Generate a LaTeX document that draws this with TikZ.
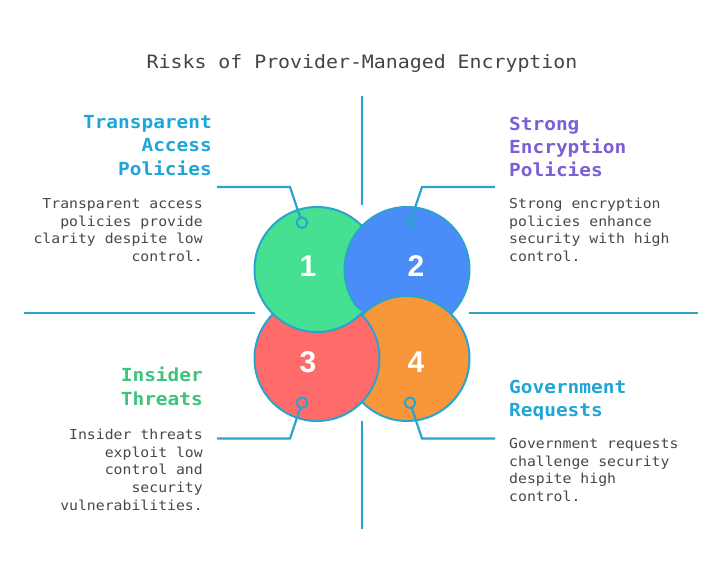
\documentclass[tikz,border=0pt]{standalone}
\usepackage{fontspec}
\newfontfamily\monof[FakeStretch=1.08]{DejaVu Sans Mono}
\newfontfamily\numf{Liberation Sans}
\definecolor{linec}{RGB}{42,163,206}
\definecolor{cgreen}{RGB}{70,224,146}
\definecolor{cblue}{RGB}{74,141,248}
\definecolor{cred}{RGB}{255,106,106}
\definecolor{corange}{RGB}{247,151,58}
\definecolor{hblue}{RGB}{32,165,216}
\definecolor{hpurple}{RGB}{124,95,216}
\definecolor{hgreen}{RGB}{60,196,124}
\definecolor{bodyc}{RGB}{72,72,72}
\definecolor{titlec}{RGB}{68,68,68}
\newcommand{\rlines}[1]{\begin{tabular}[t]{@{}r@{}}#1\end{tabular}}
\newcommand{\llines}[1]{\begin{tabular}[t]{@{}l@{}}#1\end{tabular}}
\begin{document}
\begin{tikzpicture}[x=1pt,y=-1pt,
  bigc/.style={circle, minimum size=125pt, inner sep=0pt, outer sep=0pt, draw=linec, line width=2pt},
  ringm/.style={circle, minimum size=10.6pt, inner sep=0pt, outer sep=0pt, draw=linec, line width=2pt},
  conn/.style={draw=linec, line width=2.2pt},
  axisline/.style={draw=linec, line width=2.2pt},
  head/.style={font=\monof\bfseries\fontsize{18}{23.5}\selectfont, inner sep=0pt},
  body/.style={font=\monof\fontsize{13.7}{17.8}\selectfont, text=bodyc, inner sep=0pt},
  numt/.style={font=\numf\bfseries\fontsize{30}{30}\selectfont, text=white, inner sep=0pt, anchor=base}]
\useasboundingbox[fill=white] (0,0) rectangle (723,578);

% title
\node[font=\monof\fontsize{18.4}{20}\selectfont, text=titlec, anchor=base, inner sep=0pt] (title) at (362,68.3) {Risks of Provider-Managed Encryption};

% axis lines
\coordinate (vt1) at (362,96);
\coordinate (vt2) at (362,205);
\coordinate (vb1) at (362,421);
\coordinate (vb2) at (362,529);
\coordinate (hl1) at (24,313);
\coordinate (hl2) at (255,313);
\coordinate (hr1) at (469,313);
\coordinate (hr2) at (698,313);
\draw[axisline] (vt1) -- (vt2);
\draw[axisline] (vb1) -- (vb2);
\draw[axisline] (hl1) -- (hl2);
\draw[axisline] (hr1) -- (hr2);

% circles
\node[bigc, fill=cgreen] (c1) at (317,269.5) {};
\node[bigc, fill=cblue] (c2) at (407,269.5) {};
\node[bigc, fill=corange] (c4) at (407,358.5) {};
\node[bigc, fill=cred] (c3) at (317,358.5) {};
\begin{scope}
  \clip (c3.center) circle (64.6pt);
  \fill[cgreen] (c1.center) circle (62.5pt);
  \draw[linec, line width=2pt] (c1.center) circle (62.5pt);
\end{scope}

% numbers
\node[numt] (n1) at (308,276.5) {1};
\node[numt] (n2) at (416,276.5) {2};
\node[numt] (n3) at (308,372.5) {3};
\node[numt] (n4) at (416,372.5) {4};

% markers
\node[ringm] (m1) at (302,222.7) {};
\node[ringm] (m2) at (410,222.7) {};
\node[ringm] (m3) at (302,402.7) {};
\node[ringm] (m4) at (410,402.7) {};

% connectors
\coordinate (k1) at (290,187);
\coordinate (e1) at (217,187);
\coordinate (k2) at (422,187);
\coordinate (e2) at (495,187);
\coordinate (k3) at (290,438.5);
\coordinate (e3) at (217,438.5);
\coordinate (k4) at (422,438.5);
\coordinate (e4) at (495,438.5);
\draw[conn] (m1) -- (k1) -- (e1);
\draw[conn] (m2) -- (k2) -- (e2);
\draw[conn] (m3) -- (k3) -- (e3);
\draw[conn] (m4) -- (k4) -- (e4);

% texts
\node[head, text=hblue, anchor=base east] (h1) at (212,128.3) {\rlines{Transparent\\Access\\Policies}};
\node[body, anchor=base east] (b1) at (203,208.3) {\rlines{Transparent access\\policies provide\\clarity despite low\\control.}};
\node[head, text=hpurple, anchor=base west] (h2) at (509,130) {\llines{Strong\\Encryption\\Policies}};
\node[body, anchor=base west] (b2) at (509,208.3) {\llines{Strong encryption\\policies enhance\\security with high\\control.}};
\node[head, text=hgreen, anchor=base east] (h3) at (203,381.7) {\rlines{Insider\\Threats}};
\node[body, anchor=base east] (b3) at (203,439.3) {\rlines{Insider threats\\exploit low\\control and\\security\\vulnerabilities.}};
\node[head, text=hblue, anchor=base west] (h4) at (509,393.3) {\llines{Government\\Requests}};
\node[body, anchor=base west] (b4) at (509,448.3) {\llines{Government requests\\challenge security\\despite high\\control.}};
\end{tikzpicture}
\end{document}
